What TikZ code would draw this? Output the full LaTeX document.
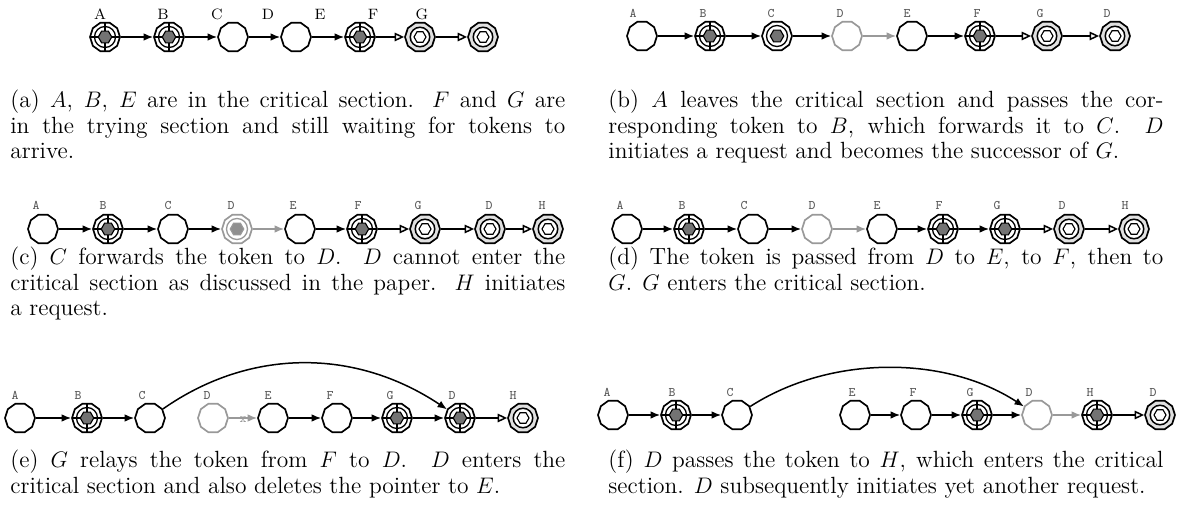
\documentclass[tikz,border=0pt]{standalone}
\usetikzlibrary{shapes.geometric,arrows.meta}
\definecolor{tokgray}{gray}{0.45}
\definecolor{trygray}{gray}{0.88}
\definecolor{offgray}{gray}{0.6}
\definecolor{labgray}{gray}{0.35}
\tikzset{
  proc/.style={regular polygon, regular polygon sides=10, draw, line width=0.9pt,
    fill=white, minimum size=16pt, inner sep=0pt},
  idle/.style={proc},
  off/.style={proc, draw=offgray},
  tok/.style={proc, path picture={
    \begin{scope}[shift={(path picture bounding box.center)}]
      \draw[line width=0.7pt] (0,0) circle (5.6pt);
      \filldraw[fill=tokgray, line width=0.6pt] (0:3.6pt) -- (60:3.6pt) -- (120:3.6pt)
        -- (180:3.6pt) -- (240:3.6pt) -- (300:3.6pt) -- cycle;
    \end{scope}}},
  crit/.style={proc, path picture={
    \begin{scope}[shift={(path picture bounding box.center)}]
      \draw[line width=0.7pt] (0,0) circle (5.6pt);
      \draw[line width=0.7pt] (0,-9pt) -- (0,9pt) (-9pt,0) -- (9pt,0);
      \filldraw[fill=tokgray, line width=0.6pt] (0:3.6pt) -- (60:3.6pt) -- (120:3.6pt)
        -- (180:3.6pt) -- (240:3.6pt) -- (300:3.6pt) -- cycle;
    \end{scope}}},
  offtok/.style={proc, draw=offgray, path picture={
    \begin{scope}[shift={(path picture bounding box.center)}]
      \draw[offgray, line width=0.7pt] (0,0) circle (5.6pt);
      \filldraw[draw=offgray, fill=tokgray!80, line width=0.6pt] (0:3.6pt) -- (60:3.6pt)
        -- (120:3.6pt) -- (180:3.6pt) -- (240:3.6pt) -- (300:3.6pt) -- cycle;
    \end{scope}}},
  try/.style={proc, fill=trygray, path picture={
    \begin{scope}[shift={(path picture bounding box.center)}]
      \filldraw[fill=white, line width=0.8pt] (0,0) circle (5.2pt);
      \draw[line width=0.6pt] (0:3.2pt) -- (60:3.2pt) -- (120:3.2pt)
        -- (180:3.2pt) -- (240:3.2pt) -- (300:3.2pt) -- cycle;
    \end{scope}}},
  go/.style={-{Latex[length=5pt,width=4pt]}, line width=0.8pt},
  goff/.style={go, color=offgray},
  wait/.style={-{Triangle[open,length=5pt,width=4.5pt]}, line width=0.8pt},
  laba/.style={font=\fontsize{8}{9}\selectfont, inner sep=0pt},
  lab/.style={font=\fontsize{7}{8}\selectfont\ttfamily, text=labgray, inner sep=0pt},
  captxt/.style={anchor=north west, text width=296pt, align=justify, inner sep=0pt,
    font=\fontsize{12.5}{13.5}\selectfont}
}
\begin{document}
\begin{tikzpicture}[x=0.5333pt, y=-0.5333pt]
\useasboundingbox (0,0) rectangle (1189,508);
% (a)
\foreach \s/\x [count=\i] in {crit/105, crit/169, idle/233, idle/296, crit/360, try/420, try/483}
  \node[\s] (a\i) at (\x,37) {};
\foreach \t/\x [count=\i] in {A/100, B/163, C/217, D/268, E/320, F/373, G/422}
  \node[laba] (la\i) at (\x,14) {\t};
\foreach \i/\j in {1/2, 2/3, 3/4, 4/5}
  \draw[go] (a\i) -- (a\j);
\foreach \i/\j in {5/6, 6/7}
  \draw[wait] (a\i) -- (a\j);
\node[captxt] (capa) at (10,90) {(a) $A$, $B$, $E$ are in the critical section. $F$ and $G$ are\linebreak
  in the trying section and still waiting for tokens to\linebreak arrive.};
% (b)
\foreach \s/\x [count=\i] in {idle/642, crit/710, tok/777, off/847, idle/912, crit/980, try/1047, try/1115}
  \node[\s] (b\i) at (\x,36) {};
\foreach \t/\x [count=\i] in {A/633, B/703, C/771, D/840, E/907, F/977, G/1040, D/1107}
  \node[lab] (lb\i) at (\x,13) {\t};
\foreach \i/\j in {1/2, 2/3, 3/4, 5/6}
  \draw[go] (b\i) -- (b\j);
\draw[goff] (b4) -- (b5);
\foreach \i/\j in {6/7, 7/8}
  \draw[wait] (b\i) -- (b\j);
\node[captxt] (capb) at (608,90) {(b) $A$ leaves the critical section and passes the cor-\linebreak
  responding token to $B$, which forwards it to $C$. $D$\linebreak
  initiates a request and becomes the successor of $G$.};
% (c)
\foreach \s/\x [count=\i] in {idle/43, crit/108, idle/173, offtok/237, idle/300, crit/362, try/425, try/490, try/548}
  \node[\s] (c\i) at (\x,229) {};
\foreach \t/\x [count=\i] in {A/36, B/103, C/168, D/231, E/293, F/358, G/418, D/489, H/542}
  \node[lab] (lc\i) at (\x,205) {\t};
\foreach \i/\j in {1/2, 2/3, 3/4, 5/6}
  \draw[go] (c\i) -- (c\j);
\draw[goff] (c4) -- (c5);
\foreach \i/\j in {6/7, 7/8, 8/9}
  \draw[wait] (c\i) -- (c\j);
\node[captxt] (capc) at (10,247) {(c) $C$ forwards the token to $D$. $D$ cannot enter the\linebreak
  critical section as discussed in the paper. $H$ initiates\linebreak a request.};
% (d)
\foreach \s/\x [count=\i] in {idle/627, crit/689, idle/753, off/817, idle/882, crit/943, crit/1005, try/1069, try/1134}
  \node[\s] (d\i) at (\x,229) {};
\foreach \t/\x [count=\i] in {A/620, B/682, C/744, D/812, E/877, F/939, G/997, D/1062, H/1125}
  \node[lab] (ld\i) at (\x,205) {\t};
\foreach \i/\j in {1/2, 2/3, 3/4, 5/6, 6/7}
  \draw[go] (d\i) -- (d\j);
\draw[goff] (d4) -- (d5);
\foreach \i/\j in {7/8, 8/9}
  \draw[wait] (d\i) -- (d\j);
\node[captxt] (capd) at (608,247) {(d) The token is passed from $D$ to $E$, to $F$, then to\linebreak
  $G$. $G$ enters the critical section.};
% (e)
\foreach \s/\x [count=\i] in {idle/20, crit/87, idle/150, off/213, idle/273, idle/337, crit/397, crit/460, try/523}
  \node[\s] (e\i) at (\x,418) {};
\foreach \t/\x [count=\i] in {A/15, B/78, C/142, D/207, E/268, F/330, G/390, D/452, H/513}
  \node[lab] (le\i) at (\x,395) {\t};
\foreach \i/\j in {1/2, 2/3, 5/6, 6/7, 7/8}
  \draw[go] (e\i) -- (e\j);
\draw[goff] (e4) -- node[lab, text=offgray, below=-1pt] (ex) {x} (e5);
\draw[wait] (e8) -- (e9);
\draw[go] (e3) .. controls (250,348) and (355,348) .. (e8);
\node[captxt] (cape) at (10,450) {(e) $G$ relays the token from $F$ to $D$. $D$ enters the\linebreak
  critical section and also deletes the pointer to $E$.};
% (f)
\foreach \s/\x [count=\i] in {idle/613, crit/676, idle/737, idle/855, idle/916, crit/977, off/1037, crit/1097, try/1160}
  \node[\s] (f\i) at (\x,415) {};
\foreach \t/\x [count=\i] in {A/607, B/672, C/730, E/852, F/913, G/970, D/1029, H/1090, D/1153}
  \node[lab] (lf\i) at (\x,392) {\t};
\foreach \i/\j in {1/2, 2/3, 4/5, 5/6, 6/7}
  \draw[go] (f\i) -- (f\j);
\draw[goff] (f7) -- (f8);
\draw[wait] (f8) -- (f9);
\draw[go] (f3) .. controls (830,355) and (945,355) .. (f7);
\node[captxt] (capf) at (608,450) {(f) $D$ passes the token to $H$, which enters the critical\linebreak
  section. $D$ subsequently initiates yet another request.};
\end{tikzpicture}
\end{document}
